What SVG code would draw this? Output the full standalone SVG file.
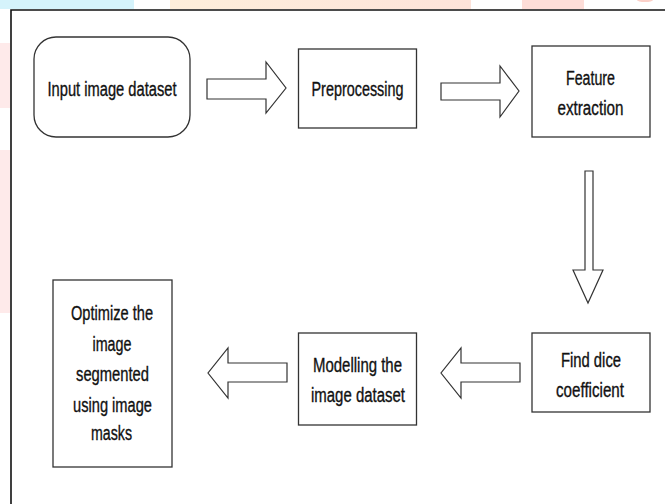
<svg xmlns="http://www.w3.org/2000/svg" width="665" height="504" viewBox="0 0 665 504">
<style>
.box{fill:#ffffff;stroke:#333333;stroke-width:1.3}
.arrow{fill:#ffffff;stroke:#333333;stroke-width:1.2;stroke-linejoin:miter}
.t{font-family:"Liberation Sans Narrow","Liberation Sans",Arial,sans-serif;font-size:20px;fill:#111111;stroke:#111111;stroke-width:0.35;text-anchor:middle;dominant-baseline:central}
</style>
<defs>
<linearGradient id="peach" x1="0" y1="0" x2="1" y2="0">
<stop offset="0" stop-color="#fdeedb"/>
<stop offset="1" stop-color="#fde3da"/>
</linearGradient>
</defs>
<rect width="665" height="504" fill="#ffffff"/>
<g id="background">
<rect x="0" y="0" width="134" height="9" fill="#d5f3fb"/>
<rect x="170" y="0" width="301" height="9" fill="url(#peach)"/>
<rect x="522" y="0" width="62" height="9" fill="#fdddd8"/>
<ellipse cx="645" cy="0" rx="8" ry="2" fill="#fbd0c8"/>
<rect x="0" y="43" width="10" height="65" fill="#feeaea"/>
<rect x="0" y="150" width="10" height="163" fill="#feeaea"/>
<path d="M11 504 V10 H665" fill="none" stroke="#111111" stroke-width="1.6"/>
</g>
<g id="connectors">
<polygon class="arrow" points="207,79 266,79 266,62 286,88 266,113 266,99 207,99"/>
<polygon class="arrow" points="441,83 500,83 500,66 519,91 500,117 500,100 441,100"/>
<polygon class="arrow" points="585,171 593,171 593,270 603,270 588,303 573,270 585,270"/>
<polygon class="arrow" points="520,363 461,363 461,348 441,373 461,398 461,382 520,382"/>
<polygon class="arrow" points="287,363 228,363 228,348 208,373 228,398 228,382 287,382"/>
</g>
<g id="node-input">
<rect class="box" x="34" y="37" width="156" height="100" rx="22" ry="22"/>
<text class="t" x="112" y="89" textLength="129" lengthAdjust="spacingAndGlyphs">Input image dataset</text>
</g>
<g id="node-preprocessing">
<rect class="box" x="298.5" y="49" width="118" height="79"/>
<text class="t" x="357.5" y="89" textLength="92" lengthAdjust="spacingAndGlyphs">Preprocessing</text>
</g>
<g id="node-feature">
<rect class="box" x="532" y="46" width="118" height="91"/>
<text class="t" x="590.5" y="78" textLength="49" lengthAdjust="spacingAndGlyphs">Feature</text>
<text class="t" x="590.5" y="108" textLength="66" lengthAdjust="spacingAndGlyphs">extraction</text>
</g>
<g id="node-dice">
<rect class="box" x="532" y="333" width="118" height="79"/>
<text class="t" x="591" y="360" textLength="60" lengthAdjust="spacingAndGlyphs">Find dice</text>
<text class="t" x="590" y="390" textLength="68" lengthAdjust="spacingAndGlyphs">coefficient</text>
</g>
<g id="node-modelling">
<rect class="box" x="298.5" y="333" width="118" height="92"/>
<text class="t" x="357.5" y="365" textLength="89" lengthAdjust="spacingAndGlyphs">Modelling the</text>
<text class="t" x="358" y="395" textLength="94" lengthAdjust="spacingAndGlyphs">image dataset</text>
</g>
<g id="node-optimize">
<rect class="box" x="53" y="280" width="119" height="187"/>
<text class="t" x="112" y="313" textLength="82" lengthAdjust="spacingAndGlyphs">Optimize the</text>
<text class="t" x="112" y="344" textLength="39" lengthAdjust="spacingAndGlyphs">image</text>
<text class="t" x="112.5" y="374" textLength="73" lengthAdjust="spacingAndGlyphs">segmented</text>
<text class="t" x="112.5" y="405" textLength="79" lengthAdjust="spacingAndGlyphs">using image</text>
<text class="t" x="111.5" y="433" textLength="41" lengthAdjust="spacingAndGlyphs">masks</text>
</g>
</svg>
